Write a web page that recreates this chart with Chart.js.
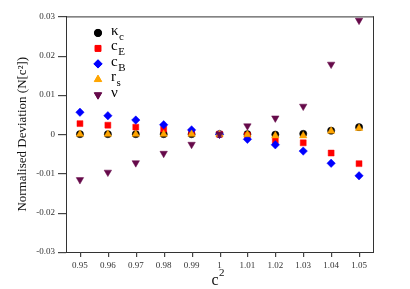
<!DOCTYPE html>
<html><head><meta charset="utf-8">
<script src="https://cdn.jsdelivr.net/npm/chart.js@4.4.1/dist/chart.umd.min.js"></script>
<style>html,body{margin:0;padding:0;background:#fff}#c{display:block}</style>
</head><body>
<canvas id="c" width="410" height="289"></canvas>
<script>
const categories = ['0.95','0.96','0.97','0.98','0.99','1','1.01','1.02','1.03','1.04','1.05'];
const yTickLabels = ['-0.03','-0.02','-0.01','0','0.01','0.02','0.03'];
const yTickValues = [-0.03,-0.02,-0.01,0,0.01,0.02,0.03];
const kappaC = [0,0,0,0,0,0,0,-0.0001,0.0001,0.0009,0.0018];
const cE     = [0.0027,0.0023,0.0018,0.0013,0.0005,0,-0.0003,-0.0016,-0.0022,-0.0048,-0.0075];
const cB     = [0.0056,0.0047,0.0036,0.0024,0.0011,0,-0.0013,-0.0027,-0.0043,-0.0074,-0.0106];
const rS     = [0,0,0,0,0,0,-0.0001,-0.0004,-0.0004,0.0008,0.0015];
const nu     = [-0.0116,-0.0097,-0.0073,-0.0049,-0.0026,0,0.0021,0.0041,0.0071,0.0178,0.0290];
const legendLabels = [['κ','c'],['c','E'],['c','B'],['r','s'],['ν','']];
const xTitle = ['c','2'];
const yTitle = 'Normalised Deviation (N[c²])';

const serif = '"Liberation Serif","DejaVu Serif",serif';
const specs = [
  {data:kappaC, color:'#000000', style:'circle', r:3.6},
  {data:cE, color:'#ff0000', style:'rect', r:4.2},
  {data:cB, color:'#0000ff', style:'rectRot', r:4.2},
  {data:rS, color:'#ffa500', style:'triangle', r:4.3},
  {data:nu, color:'#660a4a', style:'triangle', r:4.3, rot:180}
];
const datasets = specs.map((s,i)=>({
  label: legendLabels[i].join('_'),
  data: s.data,
  showLine:false,
  pointStyle:s.style,
  pointRadius:s.r,
  pointRotation:s.rot||0,
  pointBackgroundColor:s.color,
  pointBorderColor:s.color,
  pointBorderWidth:0.5,
  order: 5-i
}));

const frame = {
  id:'frame',
  afterDraw(chart){
    const {ctx, chartArea:a} = chart;
    const xs = chart.scales.x, ys = chart.scales.y;
    ctx.save();
    ctx.fillStyle='#333';
    ctx.fillRect(a.left, a.top, a.right - a.left + 1, 1);
    ctx.fillRect(a.right, a.top, 1, a.bottom - a.top);
    ctx.fillStyle='#444';
    const L = Math.round(a.left);
    for (let k = 0; k < yTickValues.length; k++) {
      const py = Math.round(ys.getPixelForValue(yTickValues[k]));
      ctx.fillRect(L - 8, py, 8, 1.2);
    }
    const B = Math.round(a.bottom);
    for (let i = 0; i < categories.length; i++) {
      const px = Math.round(xs.getPixelForTick(i));
      ctx.fillRect(px, B, 1.2, 5);
    }
    // axis titles
    ctx.fillStyle='#111';
    ctx.textBaseline='alphabetic'; ctx.textAlign='left';
    ctx.font='16px '+serif;
    const cx = (a.left+a.right)/2 - 5;
    ctx.fillText(xTitle[0], cx-3, 285);
    const cw = ctx.measureText(xTitle[0]).width;
    ctx.font='11px '+serif;
    ctx.fillText(xTitle[1], cx-3+cw+0.5, 276);
    ctx.save();
    ctx.translate(26, (a.top+a.bottom)/2);
    ctx.rotate(-Math.PI/2);
    ctx.textAlign='center';
    ctx.font='13px '+serif;
    ctx.fillText(yTitle, 0, 0);
    ctx.restore();
    // legend
    const x0 = a.left + 32, tx = a.left + 45;
    let y = a.top + 16.5;
    specs.forEach((s,i)=>{
      ctx.fillStyle=s.color; ctx.strokeStyle=s.color;
      Chart.helpers.drawPoint(ctx, {pointStyle:s.style, radius:s.r, rotation:s.rot||0, borderWidth:0.5}, x0, y);
      ctx.fill();
      ctx.fillStyle='#000';
      ctx.textBaseline='middle'; ctx.textAlign='left';
      ctx.font = '15px '+serif;
      const [m, sub] = legendLabels[i];
      ctx.fillText(m, tx, y-2);
      const w = ctx.measureText(m).width;
      if (sub){ ctx.font='11px '+serif; ctx.fillText(sub, tx+w+0.5, y+4); }
      y += 15.5;
    });
    ctx.restore();
  }
};

new Chart(document.getElementById('c'), {
  type:'line',
  data:{labels:categories, datasets},
  options:{
    responsive:false, animation:false,
    layout:{padding:{top:14, right:37, left:0, bottom:0}},
    plugins:{legend:{display:false}, tooltip:{enabled:false}},
    scales:{
      x:{
        offset:true,
        grid:{display:false, drawTicks:false},
        border:{display:true, color:'#333', width:1},
        ticks:{color:'#333', font:{family:serif, size:9}, padding:8, maxRotation:0},
        afterFit(s){ s.height = 37; }
      },
      y:{
        min:-0.03, max:0.03,
        grid:{display:false, drawTicks:false},
        border:{display:true, color:'#333', width:1},
        ticks:{stepSize:0.01, color:'#333', font:{family:serif, size:9}, padding:11,
          callback:(v,i)=>yTickLabels[i]},
        afterFit(s){ s.width = 66; }
      }
    }
  },
  plugins:[frame]
});
</script>
</body></html>
